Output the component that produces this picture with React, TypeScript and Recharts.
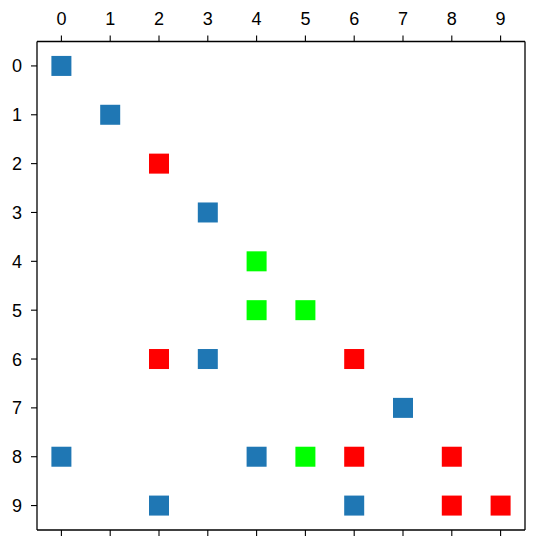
import { ScatterChart, Scatter, XAxis, YAxis } from "recharts";

const TICKS = [0, 1, 2, 3, 4, 5, 6, 7, 8, 9];

// [column, row] pairs, grouped by colour
const bluePoints = [
  [0, 0], [1, 1], [3, 3], [3, 6], [7, 7], [0, 8], [4, 8], [2, 9], [6, 9],
];
const redPoints = [
  [2, 2], [2, 6], [6, 6], [6, 8], [8, 8], [8, 9], [9, 9],
];
const greenPoints = [
  [4, 4], [4, 5], [5, 5], [5, 8],
];

const toRows = (pts: number[][]) => pts.map(([x, y]) => ({ x, y }));

const FONT = "'Liberation Sans', Arial, sans-serif";
const SIZE = 20;

const square = (color: string) => (props: any) => {
  const { cx, cy } = props;
  if (cx == null || cy == null) return <g />;
  return <rect x={cx - SIZE / 2} y={cy - SIZE / 2} width={SIZE} height={SIZE} fill={color} />;
};

// top axis labels
const TopTick = (props: any) => {
  const { x, y, payload } = props;
  return (
    <text x={x} y={y - 8.5} textAnchor="middle" fontSize={18} fontFamily={FONT} fill="#000">
      {payload.value}
    </text>
  );
};

// left axis labels
const LeftTick = (props: any) => {
  const { x, y, payload } = props;
  return (
    <text x={x - 7} y={y + 6.5} textAnchor="end" fontSize={18} fontFamily={FONT} fill="#000">
      {payload.value}
    </text>
  );
};

const NoTick = () => <g />;

const AXIS_LINE = { stroke: "#000", strokeWidth: 1.3 };
const TICK_LINE = { stroke: "#000", strokeWidth: 1.1 };

export default function App() {
  return (
    <div style={{ position: "absolute", left: 0, top: 0, background: "#fff" }}>
      <ScatterChart width={542} height={550} margin={{ top: 0, right: 0, bottom: 0, left: 0 }}>
        <XAxis
          xAxisId="t"
          type="number"
          dataKey="x"
          orientation="top"
          domain={[-0.5, 9.5]}
          ticks={TICKS}
          height={41.5}
          tick={<TopTick />}
          tickSize={6}
          tickMargin={2}
          axisLine={AXIS_LINE}
          tickLine={TICK_LINE}
          allowDataOverflow
        />
        <XAxis
          xAxisId="b"
          type="number"
          dataKey="x"
          orientation="bottom"
          domain={[-0.5, 9.5]}
          ticks={TICKS}
          height={20}
          tick={<NoTick />}
          tickSize={6}
          axisLine={AXIS_LINE}
          tickLine={TICK_LINE}
          allowDataOverflow
        />
        <YAxis
          yAxisId="l"
          type="number"
          dataKey="y"
          reversed
          domain={[-0.5, 9.5]}
          ticks={TICKS}
          width={37}
          tick={<LeftTick />}
          tickSize={6}
          tickMargin={2}
          axisLine={AXIS_LINE}
          tickLine={TICK_LINE}
          allowDataOverflow
        />
        <YAxis
          yAxisId="r"
          type="number"
          dataKey="y"
          orientation="right"
          reversed
          domain={[-0.5, 9.5]}
          ticks={TICKS}
          width={17}
          tick={false}
          tickLine={false}
          axisLine={AXIS_LINE}
          allowDataOverflow
        />
        <Scatter xAxisId="t" yAxisId="l" data={toRows(bluePoints)} shape={square("#1f77b4")} isAnimationActive={false} />
        <Scatter xAxisId="t" yAxisId="l" data={toRows(redPoints)} shape={square("#ff0000")} isAnimationActive={false} />
        <Scatter xAxisId="t" yAxisId="l" data={toRows(greenPoints)} shape={square("#00ff00")} isAnimationActive={false} />
      </ScatterChart>
    </div>
  );
}
